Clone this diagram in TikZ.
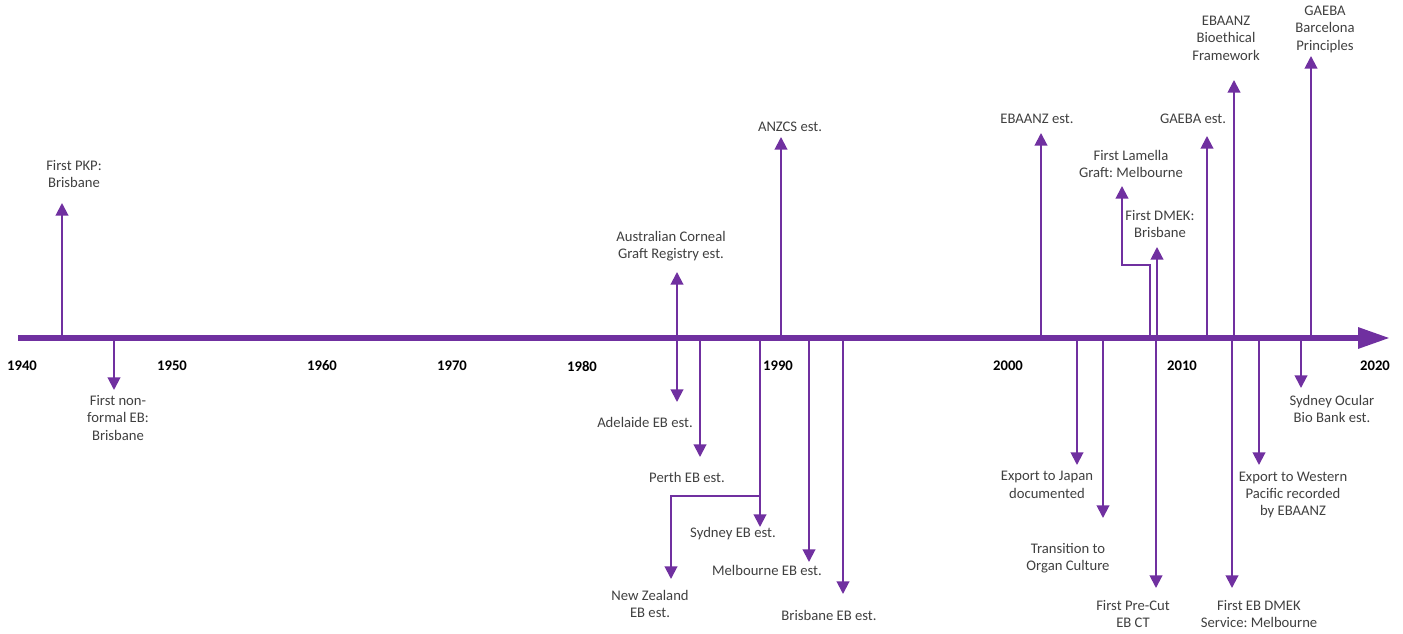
\documentclass[tikz,border=0pt]{standalone}
\usepackage{fontspec}
\setmainfont{Carlito}
\usetikzlibrary{arrows.meta}
\definecolor{tlpurple}{RGB}{112,48,160}
\definecolor{tltext}{RGB}{64,64,64}
\frenchspacing

\tikzset{
  evt/.style={color=tlpurple,line width=1.5,-{Triangle[width=9.5pt,length=9.5pt]}},
  lbl/.style={align=center,text=tltext,inner sep=0pt,font=\fontsize{11}{13.1}\selectfont},
  yr/.style={text=black,inner sep=0pt,font=\bfseries\fontsize{11}{12}\selectfont}
}

\begin{document}
\begin{tikzpicture}[x=0.75pt,y=0.75pt,yscale=-1,xscale=1]
\useasboundingbox (0,0) rectangle (1403,634);

%Time axis
\coordinate (ax0) at (18,338);
\coordinate (ax1) at (1390,338);
\draw [color=tlpurple,line width=4.5,-{Triangle[width=15pt,length=24pt]}] (ax0) -- (ax1) ;

% Year labels
\node (y1940) at (22,366) [yr] {1940};
\node (y1950) at (172,366) [yr] {1950};
\node (y1960) at (322,366) [yr] {1960};
\node (y1970) at (452,366) [yr] {1970};
\node (y1980) at (582,366) [yr] {1980};
\node (y1990) at (778,366) [yr] {1990};
\node (y2000) at (1008,366) [yr] {2000};
\node (y2010) at (1182,366) [yr] {2010};
\node (y2020) at (1375,366) [yr] {2020};

%Points on the axis
\coordinate (pkp) at (62,338);
\coordinate (nonformal) at (114,338);
\coordinate (perth) at (700,338);
\coordinate (sydney) at (760,338);
\coordinate (anzcs) at (781,338);
\coordinate (melb) at (809,338);
\coordinate (brisb) at (843,338);
\coordinate (ebaanz) at (1041,338);
\coordinate (japan) at (1077,338);
\coordinate (organ) at (1103,338);
\coordinate (lamella) at (1150,338);
\coordinate (dmek) at (1157,338);
\coordinate (precut) at (1156,338);
\coordinate (gaeba) at (1207,338);
\coordinate (ebdmek) at (1232,338);
\coordinate (bioeth) at (1234,338);
\coordinate (wpac) at (1259,338);
\coordinate (sob) at (1301,338);
\coordinate (barca) at (1311,338);

%Arrow tips
\coordinate (pkp-t) at (62,203);
\coordinate (nonformal-t) at (114,390);
\coordinate (acgr-t) at (677,272);
\coordinate (adel-t) at (677,402);
\coordinate (perth-t) at (700,457);
\coordinate (sydney-t) at (760,527);
\coordinate (nz-k) at (760,496);
\coordinate (nz-t) at (671,579);
\coordinate (anzcs-t) at (781,137);
\coordinate (melb-t) at (809,562);
\coordinate (brisb-t) at (843,594);
\coordinate (ebaanz-t) at (1041,133);
\coordinate (japan-t) at (1077,465);
\coordinate (organ-t) at (1103,518);
\coordinate (lamella-k) at (1122,265);
\coordinate (lamella-t) at (1122,186);
\coordinate (dmek-t) at (1157,247);
\coordinate (precut-t) at (1156,588);
\coordinate (gaeba-t) at (1207,136);
\coordinate (ebdmek-t) at (1232,588);
\coordinate (bioeth-t) at (1234,80);
\coordinate (wpac-t) at (1259,465);
\coordinate (sob-t) at (1301,388);
\coordinate (barca-t) at (1311,56);

%Straight Lines
\draw [evt] (pkp) -- (pkp-t) ;
\draw [evt] (nonformal) -- (nonformal-t) ;
\draw [evt,{Triangle[width=9.5pt,length=9.5pt]}-{Triangle[width=9.5pt,length=9.5pt]}] (adel-t) -- (acgr-t) ;
\draw [evt] (perth) -- (perth-t) ;
\draw [evt] (sydney) -- (sydney-t) ;
\draw [evt] (nz-k) -| (nz-t) ;
\draw [evt] (anzcs) -- (anzcs-t) ;
\draw [evt] (melb) -- (melb-t) ;
\draw [evt] (brisb) -- (brisb-t) ;
\draw [evt] (ebaanz) -- (ebaanz-t) ;
\draw [evt] (japan) -- (japan-t) ;
\draw [evt] (organ) -- (organ-t) ;
\draw [evt] (lamella) |- (lamella-k) -- (lamella-t) ;
\draw [evt] (dmek) -- (dmek-t) ;
\draw [evt] (precut) -- (precut-t) ;
\draw [evt] (gaeba) -- (gaeba-t) ;
\draw [evt] (ebdmek) -- (ebdmek-t) ;
\draw [evt] (bioeth) -- (bioeth-t) ;
\draw [evt] (wpac) -- (wpac-t) ;
\draw [evt] (sob) -- (sob-t) ;
\draw [evt] (barca) -- (barca-t) ;

% Text Node
\node (pkp-l) at (74,174) [lbl] {First PKP:\\Brisbane};
% Text Node
\node (nonformal-l) at (118,418) [lbl] {First non-\\formal EB:\\Brisbane};
% Text Node
\node (acgr-l) at (671,246) [lbl] {Australian Corneal\\Graft Registry est.};
% Text Node
\node (adel-l) at (645,422) [lbl] {Adelaide EB est.};
% Text Node
\node (perth-l) at (687,477) [lbl] {Perth EB est.};
% Text Node
\node (sydney-l) at (733,534) [lbl] {Sydney EB est.};
% Text Node
\node (nz-l) at (650,604) [lbl] {New Zealand\\EB est.};
% Text Node
\node (anzcs-l) at (790,127) [lbl] {ANZCS est.};
% Text Node
\node (melb-l) at (767,570) [lbl] {Melbourne EB est.};
% Text Node
\node (brisb-l) at (829,615) [lbl] {Brisbane EB est.};
% Text Node
\node (ebaanz-l) at (1037,119) [lbl] {EBAANZ est.};
% Text Node
\node (japan-l) at (1047,485) [lbl] {Export to Japan\\documented};
% Text Node
\node (organ-l) at (1068,558) [lbl] {Transition to\\Organ Culture};
% Text Node
\node (lamella-l) at (1131,164) [lbl] {First Lamella\\Graft: Melbourne};
% Text Node
\node (dmek-l) at (1160,224) [lbl] {First DMEK:\\Brisbane};
% Text Node
\node (precut-l) at (1133,614) [lbl] {First Pre-Cut\\EB CT};
% Text Node
\node (gaeba-l) at (1193,119) [lbl] {GAEBA est.};
% Text Node
\node (ebdmek-l) at (1259,614) [lbl] {First EB DMEK\\Service: Melbourne};
% Text Node
\node (bioeth-l) at (1226,38) [lbl] {EBAANZ\\Bioethical\\Framework};
% Text Node
\node (wpac-l) at (1293,495) [lbl] {Export to Western\\Pacific recorded\\by EBAANZ};
% Text Node
\node (sob-l) at (1332,409) [lbl] {Sydney Ocular\\Bio Bank est.};
% Text Node
\node (barca-l) at (1325,29) [lbl] {GAEBA\\Barcelona\\Principles};

\end{tikzpicture}
\end{document}
